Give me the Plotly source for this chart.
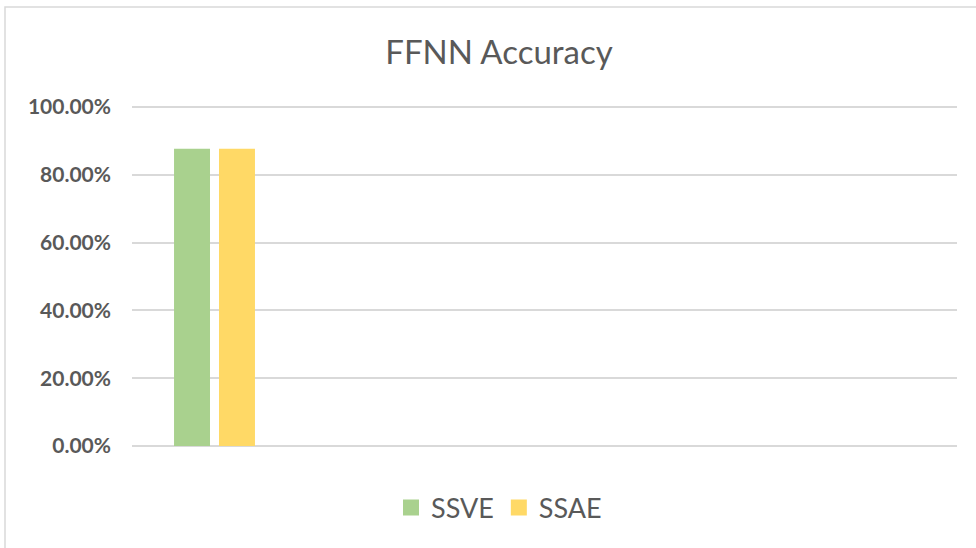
import plotly.graph_objects as go

categories = ["1", "2", "3", "4", "5"]
ssve = [0.877, None, None, None, None]
ssae = [0.877, None, None, None, None]
tick_vals = [0, 0.2, 0.4, 0.6, 0.8, 1.0]
tick_text = ["0.00%", "20.00%", "40.00%", "60.00%", "80.00%", "100.00%"]

FONT = "Lato"
TXT = "#595959"
GREEN = "#A9D18E"
YELLOW = "#FFD966"

fig = go.Figure()
fig.add_trace(go.Bar(x=categories, y=ssve, name="SSVE", marker=dict(color=GREEN, line=dict(width=0)),
                     showlegend=False))
fig.add_trace(go.Bar(x=categories, y=ssae, name="SSAE", marker=dict(color=YELLOW, line=dict(width=0)),
                     showlegend=False))
# legend entries with larger square swatches
fig.add_trace(go.Scatter(x=[None], y=[None], mode="markers", name="SSVE",
                         marker=dict(symbol="square", size=18, color=GREEN)))
fig.add_trace(go.Scatter(x=[None], y=[None], mode="markers", name="SSAE",
                         marker=dict(symbol="square", size=18, color=YELLOW)))

L, R, T, B = 132, 19, 106, 101
pw = 976 - L - R
ph = 548 - T - B

fig.update_layout(
    width=976, height=548,
    margin=dict(l=L, r=R, t=T, b=B),
    paper_bgcolor="white", plot_bgcolor="white",
    barmode="group", bargap=0.455, bargroupgap=0.2,
    title=dict(text="FFNN Accuracy", x=499 / 976, xanchor="center", y=1 - 52 / 548, yanchor="middle",
               font=dict(family=FONT, size=33, color=TXT)),
    legend=dict(orientation="h", x=(499 - L) / pw, xanchor="center", y=-(508 - 447) / ph, yanchor="middle",
                font=dict(family=FONT, size=27, color=TXT), itemwidth=30, traceorder="normal",
                itemsizing="trace"),
    xaxis=dict(showticklabels=False, showgrid=False, zeroline=False, showline=False, ticks=""),
    yaxis=dict(range=[-0.003, 1.003], tickvals=tick_vals, ticktext=tick_text, showgrid=True,
               gridcolor="#D9D9D9", gridwidth=1.6, zeroline=False, showline=False,
               tickfont=dict(family=FONT, size=21, color=TXT, weight="bold"), ticklabelstandoff=20),
    shapes=[dict(type="rect", xref="paper", yref="paper",
                 x0=(5 - L) / pw, x1=(990 - L) / pw, y0=-(560 - 447) / ph, y1=(447 - 7) / ph,
                 line=dict(color="#D9D9D9", width=1.5), fillcolor="rgba(0,0,0,0)", layer="below")],
)

fig.write_html("out.html", config={"displayModeBar": False},
               post_script="document.body.style.margin='0px';")
